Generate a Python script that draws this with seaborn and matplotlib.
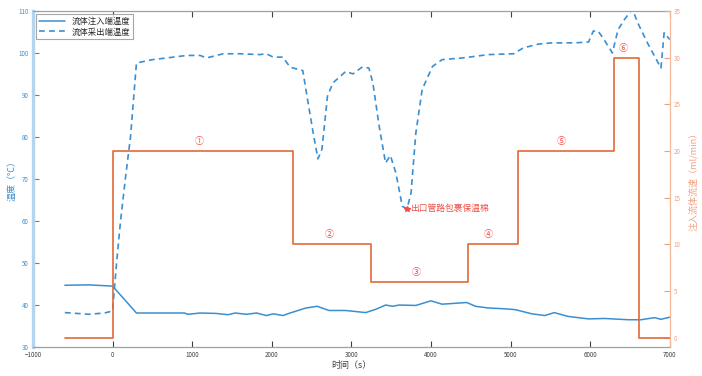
import matplotlib
matplotlib.use("Agg")
import matplotlib.pyplot as plt
import seaborn as sns
import pandas as pd

# 流体注入端温度 (solid)
inlet_time = [-600, -300, 0, 300, 600, 900, 950, 1100, 1300, 1450, 1540, 1680, 1810,
              1930, 2020, 2140, 2230, 2430, 2570, 2720, 2930, 3180, 3310, 3430, 3520,
              3600, 3810, 4000, 4140, 4450, 4560, 4720, 4930, 5060, 5270, 5430, 5550,
              5720, 5980, 6180, 6480, 6640, 6810, 6890, 7000]
inlet_temp = [44.7, 44.8, 44.5, 38.1, 38.1, 38.1, 37.8, 38.1, 38.0, 37.7, 38.1, 37.8, 38.1,
              37.5, 37.9, 37.5, 38.1, 39.3, 39.7, 38.7, 38.7, 38.2, 39.0, 40.0, 39.7,
              40.0, 39.9, 41.0, 40.2, 40.6, 39.7, 39.3, 39.1, 38.9, 37.9, 37.5, 38.2,
              37.3, 36.7, 36.8, 36.5, 36.5, 37.0, 36.6, 37.1]

# 流体采出端温度 (dashed)
outlet_time = [-600, -300, -100, 0, 50, 100, 160, 225, 300, 500, 680, 930, 1100, 1180,
               1390, 1600, 1850, 1930, 2020, 2140, 2230, 2390, 2450, 2520, 2580, 2630,
               2700, 2770, 2930, 3020, 3140, 3220, 3270, 3350, 3430, 3490, 3560, 3640,
               3700, 3750, 3810, 3890, 4020, 4140, 4390, 4480, 4720, 5040, 5160, 5350,
               5520, 5810, 5980, 6040, 6100, 6160, 6280, 6350, 6430, 6530, 6600, 6720,
               6890, 6930, 7000]
outlet_temp = [38.2, 37.8, 38.1, 38.6, 50.0, 60.0, 70.0, 80.0, 97.6, 98.4, 98.8, 99.4, 99.4, 98.8,
               99.8, 99.8, 99.6, 99.8, 99.0, 99.0, 96.6, 95.8, 88.9, 81.0, 74.8, 77.0,
               89.7, 92.9, 95.6, 95.0, 96.7, 96.4, 92.9, 82.5, 73.8, 75.6, 71.4, 63.5,
               62.9, 66.7, 80.9, 91.3, 96.8, 98.4, 98.8, 99.0, 99.6, 99.8, 101.2, 102.1,
               102.4, 102.4, 102.6, 105.2, 105.2, 103.6, 100.0, 105.5, 107.9, 110.5, 107.1, 102.4,
               96.4, 104.8, 103.2]

# 注入流体流速 (step)
flow_time = [-600, 0, 2270, 3250, 4470, 5090, 6300, 6620, 7000]
flow_rate = [0, 20, 10, 6, 10, 20, 30, 0, 0]

stage_labels = ["①", "②", "③", "④", "⑤", "⑥"]
stage_x = [1090, 2720, 3810, 4720, 5640, 6410]
stage_y = [21, 11, 7, 11, 21, 31]

note_x, note_y = 3700, 62.9
note_text = "出口管路包裹保温棉"

BLUE = "#3a8fd0"
ORANGE = "#e2693a"
RED = "#f0504a"

sns.set_style("white")
plt.rcParams["font.family"] = ["Noto Sans CJK SC", "DejaVu Sans"]

inlet = pd.DataFrame({"t": inlet_time, "T": inlet_temp})
outlet = pd.DataFrame({"t": outlet_time, "T": outlet_temp})
flow = pd.DataFrame({"t": flow_time, "q": flow_rate})

fig = plt.figure(figsize=(7.02, 3.76), dpi=100)
ax = fig.add_axes([0.047, 0.077, 0.907, 0.894])

sns.lineplot(data=inlet, x="t", y="T", ax=ax, color=BLUE, lw=1.1, estimator=None,
             sort=False, label="流体注入端温度")
sns.lineplot(data=outlet, x="t", y="T", ax=ax, color=BLUE, lw=1.2, estimator=None,
             sort=False, linestyle=(0, (3.5, 2.5)), label="流体采出端温度")
ax.plot([note_x], [note_y], marker="*", color=RED, ms=4, ls="none")
ax.text(note_x + 40, note_y, note_text, color=RED, fontsize=6.3, va="center", ha="left")

ax.set_xlim(-1000, 7000)
ax.set_ylim(30, 110)
ax.set_xticks(range(-1000, 7001, 1000))
ax.set_yticks(range(30, 111, 10))
ax.set_xlabel("时间（s）", fontsize=6.5, color="#404040", labelpad=1)
ax.set_ylabel("温度（°C）", fontsize=6.5, color=BLUE, labelpad=1)
ax.tick_params(axis="x", direction="in", length=4, labelsize=4.5, colors="#404040",
               top=True, bottom=True, pad=3)
ax.tick_params(axis="y", direction="in", length=4, labelsize=4.5, colors=BLUE,
               left=True, pad=3)
for s in ["top", "bottom"]:
    ax.spines[s].set_color("#a0a0a0")
    ax.spines[s].set_linewidth(0.9)
ax.spines["left"].set_color("#b5d4ee")
ax.spines["left"].set_linewidth(2.4)
ax.spines["right"].set_visible(False)

leg = ax.legend(loc="upper left", fontsize=6, frameon=True, fancybox=False,
                edgecolor="#909090", borderpad=0.3, handlelength=3.2,
                labelspacing=0.2, borderaxespad=0.4)
leg.get_frame().set_linewidth(0.8)

ax2 = ax.twinx()
sns.lineplot(data=flow, x="t", y="q", ax=ax2, color=ORANGE, lw=1.2, estimator=None,
             sort=False, drawstyle="steps-post")
for lab, x, y in zip(stage_labels, stage_x, stage_y):
    ax2.text(x, y, lab, color=RED, fontsize=6.5, ha="center", va="center")
ax2.set_ylim(-1, 35)
ax2.set_yticks(range(0, 36, 5))
ax2.set_xlim(-1000, 7000)
ax2.set_ylabel("注入流体流速（ml/min）", fontsize=6.5, color="#f0a080", labelpad=6)
ax2.tick_params(axis="y", direction="in", length=4, labelsize=4.5, colors="#f0a080",
                right=True, pad=3)
ax2.spines["right"].set_color("#f5b899")
ax2.spines["right"].set_linewidth(0.9)
for s in ["left", "top", "bottom"]:
    ax2.spines[s].set_visible(False)

fig.savefig("out.png", dpi=100)
